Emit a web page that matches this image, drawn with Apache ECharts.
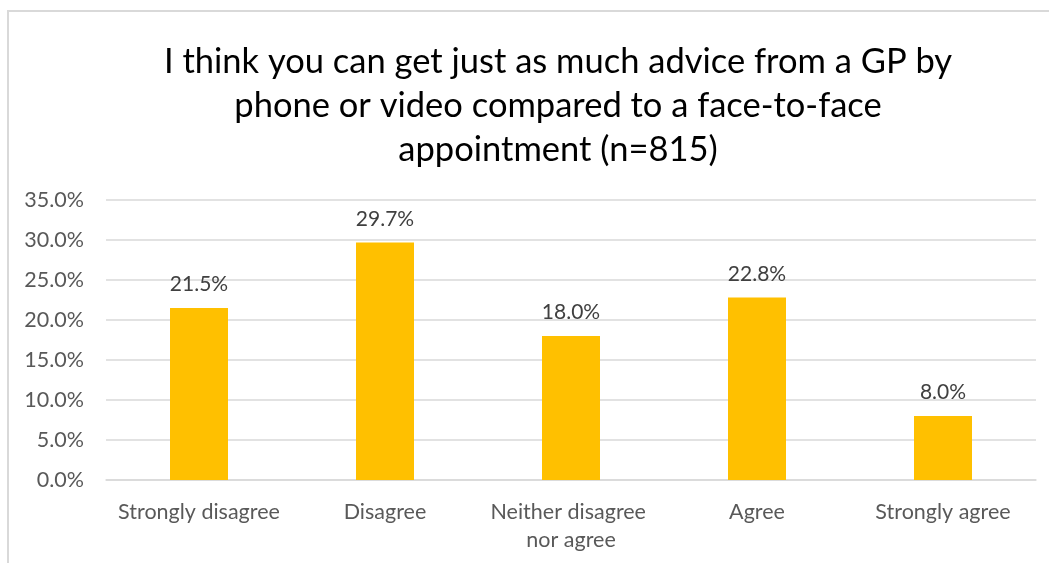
<!DOCTYPE html>
<html>
<head>
<meta charset="utf-8">
<style>
  html, body { margin: 0; padding: 0; background: #fff; }
  #frame { position: absolute; left: 7px; top: 10px; width: 1100px; height: 600px; border: 2px solid #d9d9d9; box-sizing: border-box; }
  #chart { position: absolute; left: 0; top: 0; width: 1049px; height: 563px; }
</style>
<script src="https://cdn.jsdelivr.net/npm/echarts@6/dist/echarts.min.js"></script>
</head>
<body>
<div id="frame"></div>
<div id="chart"></div>
<script>
const titleLines = [
  'I think you can get just as much advice from a GP by',
  'phone or video compared to a face-to-face',
  'appointment (n=815)'
];
const categories = ['Strongly disagree', 'Disagree', 'Neither disagree nor agree', 'Agree', 'Strongly agree'];
const percentages = [21.5, 29.7, 18.0, 22.8, 8.0];
const yTicks = { min: 0, max: 35, interval: 5 };

const FONT = 'Lato, "Open Sans", sans-serif';
const chart = echarts.init(document.getElementById('chart'), null, { renderer: 'canvas' });

chart.setOption({
  animation: false,
  backgroundColor: 'transparent',
  title: {
    text: titleLines.join('\n'),
    left: 553,
    textAlign: 'center',
    top: 35,
    textStyle: { fontFamily: FONT, fontSize: 34.5, fontWeight: 'normal', color: '#000', lineHeight: 44 }
  },
  grid: { left: 106, right: 13, top: 200, bottom: 83 },
  xAxis: {
    type: 'category',
    data: categories,
    axisLine: { show: true, lineStyle: { color: '#d9d9d9', width: 1.5 } },
    axisTick: { show: false },
    axisLabel: {
      color: '#595959', fontFamily: FONT, fontSize: 21.5, margin: 18,
      lineHeight: 28, width: 180, overflow: 'break', interval: 0
    }
  },
  yAxis: {
    type: 'value',
    min: yTicks.min, max: yTicks.max, interval: yTicks.interval,
    axisLine: { show: false },
    axisTick: { show: false },
    splitLine: { lineStyle: { color: '#d9d9d9', width: 1.5 } },
    axisLabel: {
      color: '#595959', fontFamily: FONT, fontSize: 21.5, margin: 22,
      formatter: v => v.toFixed(1) + '%'
    }
  },
  series: [{
    type: 'bar',
    data: percentages,
    barWidth: 58,
    itemStyle: { color: '#FFC000' },
    label: {
      show: true, position: 'top', distance: 13,
      color: '#404040', fontFamily: FONT, fontSize: 21,
      formatter: p => p.value.toFixed(1) + '%'
    }
  }]
});
</script>
</body>
</html>
